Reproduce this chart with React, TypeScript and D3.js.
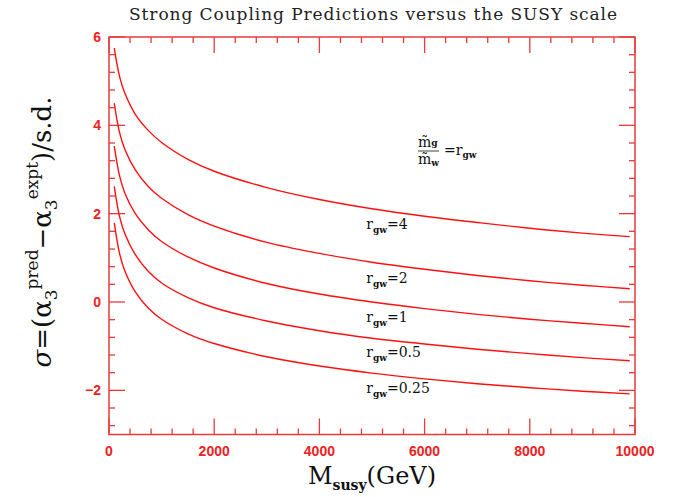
import React from "react";
import * as d3 from "d3";

const mass = [100, 200, 300, 500, 750, 1000, 1500, 2000, 3000, 4000, 5000, 6000, 7000, 8000, 9000, 9900];
const sigR4 = [5.75, 5.11, 4.73, 4.25, 3.88, 3.61, 3.23, 2.96, 2.59, 2.32, 2.11, 1.94, 1.8, 1.67, 1.56, 1.48];
const sigR2 = [4.5, 3.84, 3.46, 2.99, 2.61, 2.35, 1.98, 1.72, 1.35, 1.1, 0.9, 0.74, 0.6, 0.48, 0.38, 0.3];
const sigR1 = [3.53, 2.86, 2.47, 2.0, 1.63, 1.37, 1.02, 0.77, 0.42, 0.18, 0.0, -0.15, -0.28, -0.39, -0.48, -0.56];
const sigR05 = [2.62, 1.94, 1.55, 1.07, 0.69, 0.43, 0.1, -0.13, -0.43, -0.65, -0.82, -0.95, -1.07, -1.17, -1.26, -1.33];
const sigR025 = [1.79, 1.1, 0.71, 0.23, -0.14, -0.39, -0.72, -0.94, -1.24, -1.45, -1.61, -1.74, -1.85, -1.94, -2.02, -2.08];

const seriesList = [sigR4, sigR2, sigR1, sigR05, sigR025];
const curveLabels = ["4", "2", "1", "0.5", "0.25"];
const labelY = [1.66, 0.44, -0.46, -1.25, -2.07];
const labelX = 4890;

const xTickLabels = [0, 2000, 4000, 6000, 8000, 10000];
const yTickLabels = [6, 4, 2, 0, -2];

const RED = "#ee2222";
const AXIS = "#ea3a3a";
const SERIF = "'DejaVu Serif', serif";

export default function App() {
  const x = d3.scaleLinear().domain([0, 10000]).range([109, 635]);
  const y = d3.scaleLinear().domain([-3, 6]).range([434.5, 37]);
  const line = d3
    .line<[number, number]>()
    .x((d) => x(d[0]))
    .y((d) => y(d[1]))
    .curve(d3.curveCatmullRom.alpha(0.5));

  const xMinor = d3.range(0, 25).map((i) => i * 400).filter((v) => v % 2000 !== 0 && v < 10000);
  const yMinor = d3.range(0, 23).map((i) => +(6 - i * 0.4).toFixed(2)).filter((v) => Math.abs(v % 2) > 0.01);
  const [x0, x1] = x.range();
  const [y0, y1] = [y(-3), y(6)];

  return (
    <svg width={677} height={497} style={{ display: "block", position: "absolute", left: 0, top: 0 }}>
      <rect width={677} height={497} fill="#fff" />
      <text x={373} y={20} fontFamily={SERIF} fontSize={17} fill="#222" textAnchor="middle" textLength={488} lengthAdjust="spacing">
        Strong Coupling Predictions versus the SUSY scale
      </text>

      {/* frame */}
      <rect x={x0} y={y1} width={x1 - x0} height={y0 - y1} fill="none" stroke={AXIS} strokeWidth={1.5} />

      {/* x ticks */}
      {xTickLabels.map((v) => (
        <g key={"xt" + v}>
          <line x1={x(v)} x2={x(v)} y1={y0} y2={y0 - 16} stroke={AXIS} strokeWidth={1.3} />
          <line x1={x(v)} x2={x(v)} y1={y1} y2={y1 + 16} stroke={AXIS} strokeWidth={1.3} />
          <text x={x(v)} y={456} fontFamily="'Liberation Sans', Arial, sans-serif" fontWeight="bold" fontSize={14} fill={RED} textAnchor="middle">
            {v}
          </text>
        </g>
      ))}
      {xMinor.map((v) => (
        <g key={"xm" + v}>
          <line x1={x(v)} x2={x(v)} y1={y0} y2={y0 - 6} stroke={AXIS} strokeWidth={1.3} />
          <line x1={x(v)} x2={x(v)} y1={y1} y2={y1 + 6} stroke={AXIS} strokeWidth={1.3} />
        </g>
      ))}

      {/* y ticks */}
      {yTickLabels.map((v) => (
        <g key={"yt" + v}>
          <line x1={x0} x2={x0 + 16} y1={y(v)} y2={y(v)} stroke={AXIS} strokeWidth={1.3} />
          <line x1={x1} x2={x1 - 16} y1={y(v)} y2={y(v)} stroke={AXIS} strokeWidth={1.3} />
          <text x={101} y={y(v) + 5} fontFamily="'Liberation Sans', Arial, sans-serif" fontWeight="bold" fontSize={14} fill={RED} textAnchor="end">
            {v < 0 ? "\u2212" + Math.abs(v) : v}
          </text>
        </g>
      ))}
      {yMinor.map((v) => (
        <g key={"ym" + v}>
          <line x1={x0} x2={x0 + 6} y1={y(v)} y2={y(v)} stroke={AXIS} strokeWidth={1.3} />
          <line x1={x1} x2={x1 - 6} y1={y(v)} y2={y(v)} stroke={AXIS} strokeWidth={1.3} />
        </g>
      ))}

      {/* curves */}
      {seriesList.map((s, i) => (
        <path
          key={"c" + i}
          d={line(mass.map((m, j) => [m, s[j]] as [number, number])) || ""}
          fill="none"
          stroke="#ff1010"
          strokeWidth={1.4}
        />
      ))}

      {/* curve labels */}
      {curveLabels.map((lab, i) => (
        <text key={"l" + i} x={x(labelX)} y={y(labelY[i])} fontFamily={SERIF} fontSize={14} fill="#111">
          r
          <tspan fontSize={9} fontWeight="bold" dy={4}>gw</tspan>
          <tspan dy={-4}>={lab}</tspan>
        </text>
      ))}

      {/* ratio definition */}
      <g fontFamily={SERIF} fill="#111">
        <text x={418} y={147} fontSize={14}>
          m̃<tspan fontSize={9} fontWeight="bold" dy={-1}>g</tspan>
        </text>
        <line x1={418} x2={439} y1={151} y2={151} stroke="#111" strokeWidth={0.8} />
        <text x={418} y={164} fontSize={14}>
          m̃<tspan fontSize={9} fontWeight="bold" dy={2}>w</tspan>
        </text>
        <text x={444} y={155} fontSize={14}>
          =r<tspan fontSize={9} fontWeight="bold" dy={3}>gw</tspan>
        </text>
      </g>

      {/* x axis title */}
      <text x={372} y={484} fontFamily={SERIF} fontSize={24} fill="#111" textAnchor="middle">
        M<tspan fontSize={14} fontWeight="bold" dy={6}>susy</tspan>
        <tspan dy={-6}>(GeV)</tspan>
      </text>

      {/* y axis title */}
      <text transform="translate(51,232) rotate(-90)" fontFamily={SERIF} fontSize={26} fill="#111" textAnchor="middle">
        <tspan fontStyle="italic">σ</tspan>=(α
        <tspan fontSize={17} dy={6}>3</tspan>
        <tspan fontSize={17} dy={-19}>pred</tspan>
        <tspan dy={13}>−α</tspan>
        <tspan fontSize={17} dy={6}>3</tspan>
        <tspan fontSize={17} dy={-19}>expt</tspan>
        <tspan dy={13}>)/s.d.</tspan>
      </text>
    </svg>
  );
}
